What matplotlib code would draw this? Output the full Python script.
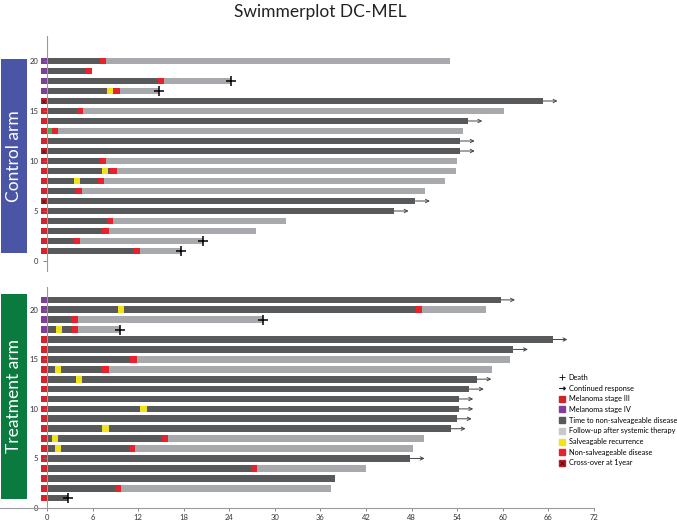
import matplotlib
matplotlib.use("Agg")
import matplotlib.pyplot as plt
from matplotlib.patches import Rectangle
from matplotlib.lines import Line2D
from matplotlib.legend_handler import HandlerTuple

plt.rcParams['font.family'] = ['Lato', 'DejaVu Sans']

# segment codes: T = time to non-salveageable disease, F = follow-up after systemic therapy,
# S = salveagable recurrence, N = non-salveageable disease, G = green mark
# each segment is (code, end month), segments start where the previous one ends

# control arm, rows 1..20
ctrl_stage = ['III'] * 16 + ['IV'] * 4
ctrl_segments = [
    [('T', 11.4), ('N', 12.2), ('F', 17.7)],
    [('T', 3.6), ('N', 4.3), ('F', 20.5)],
    [('T', 7.3), ('N', 8.2), ('F', 27.5)],
    [('T', 7.9), ('N', 8.7), ('F', 31.4)],
    [('T', 45.7)],
    [('T', 48.5)],
    [('T', 3.8), ('N', 4.6), ('F', 49.8)],
    [('T', 3.6), ('S', 4.3), ('T', 6.7), ('N', 7.5), ('F', 52.4)],
    [('T', 7.2), ('S', 8.0), ('T', 8.3), ('N', 9.2), ('F', 53.8)],
    [('T', 7.0), ('N', 7.8), ('F', 54.0)],
    [('T', 54.4)],
    [('T', 54.4)],
    [('G', 0.7), ('N', 1.5), ('F', 54.7)],
    [('T', 55.4)],
    [('T', 4.0), ('N', 4.8), ('F', 60.2)],
    [('T', 65.3)],
    [('T', 7.9), ('S', 8.7), ('T', 8.8), ('N', 9.6), ('F', 14.8)],
    [('T', 14.6), ('N', 15.4), ('F', 24.2)],
    [('T', 5.1), ('N', 5.9)],
    [('T', 7.0), ('N', 7.8), ('F', 53.1)],
]
ctrl_end = ['death', 'death', '', '', 'cont', 'cont', '', '', '', '', 'cont', 'cont',
            '', 'cont', '', 'cont', 'death', 'death', '', '']
ctrl_crossover = [6, 11, 16]

# treatment arm, rows 1..21
trt_stage = ['III'] * 17 + ['IV'] * 4
trt_segments = [
    [('T', 2.8)],
    [('T', 8.9), ('N', 9.7), ('F', 37.4)],
    [('T', 37.9)],
    [('T', 26.8), ('N', 27.6), ('F', 42.0)],
    [('T', 47.8)],
    [('T', 1.0), ('S', 1.8), ('T', 10.8), ('N', 11.6), ('F', 48.2)],
    [('T', 0.7), ('S', 1.5), ('T', 15.1), ('N', 15.9), ('F', 49.6)],
    [('T', 7.3), ('S', 8.1), ('T', 53.2)],
    [('T', 54.0)],
    [('T', 12.3), ('S', 13.1), ('T', 54.2)],
    [('T', 54.2)],
    [('T', 55.6)],
    [('T', 3.8), ('S', 4.6), ('T', 56.6)],
    [('T', 1.0), ('S', 1.8), ('T', 7.2), ('N', 8.1), ('F', 58.6)],
    [('T', 10.9), ('N', 11.8), ('F', 61.0)],
    [('T', 61.4)],
    [('T', 66.6)],
    [('T', 1.2), ('S', 2.0), ('T', 3.3), ('N', 4.1), ('F', 9.6)],
    [('T', 3.2), ('N', 4.1), ('F', 28.4)],
    [('T', 9.4), ('S', 10.2), ('T', 48.6), ('N', 49.4), ('F', 57.8)],
    [('T', 59.7)],
]
trt_end = ['death', '', '', '', 'cont', '', '', 'cont', 'cont', 'cont', 'cont', 'cont',
           'cont', '', '', 'cont', 'cont', 'death', 'death', '', 'cont']
trt_crossover = []

xticks = list(range(0, 73, 6))

colors = {'T': '#58595b', 'F': '#a7a9ac', 'S': '#f2e21c', 'N': '#e8222a', 'G': '#3fae5a',
          'III': '#d1232a', 'IV': '#7d3f98', 'X': '#b51f28'}
bar_h = 0.68
x_left = -47 / 7.6


def draw_arm(ax, stage, segments, ends, crossover):
    for i, segs in enumerate(segments):
        row = i + 1
        start = 0
        for code, stop in segs:
            ax.barh(row, stop - start, left=start, height=bar_h, color=colors[code], lw=0)
            start = stop
        box = 'X' if row in crossover else stage[i]
        ax.barh(row, 0.8, left=-0.8, height=bar_h, color=colors[box], lw=0)
        if row in crossover:
            ax.text(-0.4, row, 'x', ha='center', va='center', fontsize=6, color='#3a1010')
        if ends[i] == 'death':
            ax.plot(start, row, marker='+', color='black', ms=7, mew=1.1)
        elif ends[i] == 'cont':
            ax.annotate('', xy=(start + 1.9, row), xytext=(start, row),
                        arrowprops=dict(arrowstyle='->', color='#444444', lw=0.7,
                                        shrinkA=0, shrinkB=0, mutation_scale=6))
    ax.set_xlim(x_left, 72)
    ax.spines['left'].set_position(('data', 0))
    ax.spines['left'].set_color('#9a9a9a')
    ax.spines['left'].set_linewidth(0.8)
    for s in ['top', 'right']:
        ax.spines[s].set_visible(False)
    ax.set_yticks([0, 5, 10, 15, 20])
    ax.tick_params(axis='y', labelsize=5.5, length=3, width=0.6, color='#777777',
                   labelcolor='#333333', pad=3.5)


fig = plt.figure(figsize=(6.77, 5.21), dpi=100)

ax_top = fig.add_axes([0, 1 - 271 / 521, 594 / 677, (271 - 36) / 521])
draw_arm(ax_top, ctrl_stage, ctrl_segments, ctrl_end, ctrl_crossover)
ax_top.set_ylim(-1, 22.5)
ax_top.spines['bottom'].set_visible(False)
ax_top.set_xticks([])

ax_bot = fig.add_axes([0, 1 - 508 / 521, 594 / 677, (508 - 287) / 521])
draw_arm(ax_bot, trt_stage, trt_segments, trt_end, trt_crossover)
ax_bot.set_ylim(0, 22.3)
ax_bot.spines['bottom'].set_color('#9a9a9a')
ax_bot.spines['bottom'].set_linewidth(0.8)
ax_bot.set_xticks(xticks)
ax_bot.tick_params(axis='x', labelsize=5.5, length=2.5, width=0.6, color='#777777',
                   labelcolor='#333333', pad=2)

fig.add_artist(Rectangle((1 / 677, 1 - 253 / 521), 26 / 677, 194 / 521,
                         transform=fig.transFigure, color='#4a55a6', lw=0))
fig.add_artist(Rectangle((1 / 677, 1 - 499 / 521), 26 / 677, 205 / 521,
                         transform=fig.transFigure, color='#0b7a3e', lw=0))
fig.text(14 / 677, 1 - 156 / 521, 'Control arm', rotation=90, ha='center', va='center',
         color='white', fontsize=12.5)
fig.text(14 / 677, 1 - 396 / 521, 'Treatment arm', rotation=90, ha='center', va='center',
         color='white', fontsize=12.5)

fig.text(320 / 677, 1 - 12 / 521, 'Swimmerplot DC-MEL', ha='center', va='center',
         fontsize=12.5, color='#222222')

sq = dict(marker='s', ls='none', ms=4.5)
handles = [
    Line2D([], [], marker='+', color='black', ls='none', ms=5, mew=0.6),
    Line2D([], [], marker=r'$\rightarrow$', color='black', ls='none', ms=4.5, mew=0.3),
    Line2D([], [], color=colors['III'], **sq),
    Line2D([], [], color=colors['IV'], **sq),
    Line2D([], [], color=colors['T'], **sq),
    Line2D([], [], color='#c8c8ca', **sq),
    Line2D([], [], color=colors['S'], **sq),
    Line2D([], [], color=colors['N'], **sq),
    (Line2D([], [], color=colors['X'], **sq),
     Line2D([], [], marker='x', color='#2a0a0a', ls='none', ms=2.5, mew=0.6)),
]
labels = ['Death', 'Continued response', 'Melanoma stage III', 'Melanoma stage IV',
          'Time to non-salveageable disease', 'Follow-up after systemic therapy',
          'Salveagable recurrence', 'Non-salveageable disease', 'Cross-over at 1year']
fig.legend(handles, labels, loc='upper left', bbox_to_anchor=(559 / 677, 1 - 374 / 521),
           frameon=False, fontsize=5.3, handlelength=0.8, handletextpad=0.5,
           labelspacing=0.5, borderaxespad=0, borderpad=0,
           handler_map={tuple: HandlerTuple(ndivide=1)})

fig.savefig('out.png', dpi=100)
